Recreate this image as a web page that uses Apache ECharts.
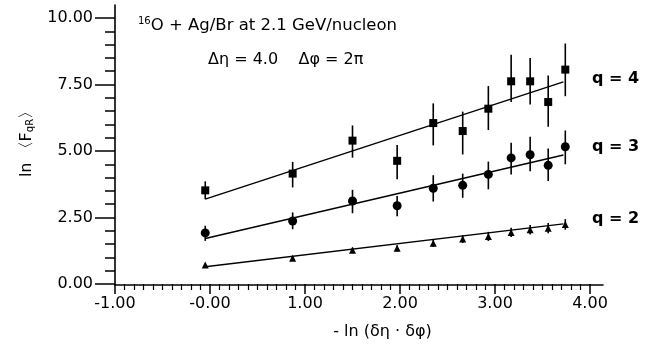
<!DOCTYPE html>
<html>
<head>
<meta charset="utf-8">
<script src="https://cdn.jsdelivr.net/npm/echarts@6/dist/echarts.min.js"></script>
<style>
  html, body { margin: 0; padding: 0; background: #fff; }
  #chart { width: 660px; height: 345px; }
</style>
</head>
<body>
<div id="chart"></div>
<script>
// -ln(δη·δφ) positions of the measured points
const xVals = [-0.05, 0.87, 1.50, 1.97, 2.35, 2.66, 2.93, 3.17, 3.37, 3.56, 3.74]

// q = 4 (squares)
const q4 = [3.52, 4.15, 5.39, 4.63, 6.05, 5.75, 6.59, 7.62, 7.62, 6.84, 8.06]
const q4Lo = [3.19, 3.63, 4.75, 3.94, 5.21, 4.87, 5.79, 6.84, 6.75, 5.91, 7.06]
const q4Hi = [3.86, 4.59, 5.96, 5.23, 6.79, 6.48, 7.44, 8.62, 8.50, 7.84, 9.04]

// q = 3 (circles)
const q3 = [1.92, 2.37, 3.12, 2.94, 3.60, 3.71, 4.12, 4.74, 4.86, 4.46, 5.16]
const q3Lo = [1.62, 2.06, 2.66, 2.55, 3.10, 3.24, 3.56, 4.12, 4.24, 3.87, 4.50]
const q3Hi = [2.19, 2.69, 3.54, 3.31, 4.09, 4.15, 4.60, 5.31, 5.54, 5.09, 5.77]

// q = 2 (triangles)
const q2 = [0.71, 0.97, 1.27, 1.34, 1.53, 1.69, 1.79, 1.94, 2.04, 2.10, 2.24]
const q2Err = [0.06, 0.08, 0.10, 0.12, 0.14, 0.15, 0.17, 0.17, 0.18, 0.19, 0.20]

// fitted straight lines (end points)
const fitX = [-0.05, 3.72]
const fit4 = [3.19, 7.60]
const fit3 = [1.71, 4.85]
const fit2 = [0.65, 2.26]

const font = 'DejaVu Sans'
const ink = '#000'

const pts = (ys) => xVals.map((x, i) => [x, ys[i]])
const bars = (lo, hi) => xVals.map((x, i) => [x, lo[i], hi[i]])
const fit = (ys) => fitX.map((x, i) => [x, ys[i]])

const errorBar = (params, api) => {
  const top = api.coord([api.value(0), api.value(2)])
  const bot = api.coord([api.value(0), api.value(1)])
  return {
    type: 'line',
    shape: { x1: top[0], y1: top[1], x2: bot[0], y2: bot[1] },
    style: { stroke: ink, lineWidth: 1.6 }
  }
}

const chart = echarts.init(document.getElementById('chart'))

const option = {
  backgroundColor: '#fff',
  animation: false,
  textStyle: { fontFamily: font, color: ink },
  grid: [
    // ticks + data
    { left: 115, right: 70, top: 18, bottom: 60 },
    // longer axis lines only
    { left: 115, right: 57, top: 5, bottom: 60 }
  ],
  xAxis: [
    {
      type: 'value', gridIndex: 0, min: -1, max: 4, interval: 1,
      axisLine: { show: false, onZero: false },
      axisTick: { show: true, inside: false, length: 10, lineStyle: { color: ink, width: 1.5 } },
      minorTick: { show: true, splitNumber: 10, length: 6, lineStyle: { color: ink, width: 1.2 } },
      splitLine: { show: false },
      axisLabel: {
        margin: 12, fontSize: 16, color: ink, fontFamily: font,
        // the original plot prints the zero tick as "-0.00"
        formatter: (v) => (v === 0 ? '-0.00' : v.toFixed(2))
      },
      name: '- ln (δη · δφ)',
      nameLocation: 'middle',
      nameGap: 40,
      nameTextStyle: { fontSize: 16, color: ink, fontFamily: font, padding: [0, 0, 0, 60] }
    },
    {
      type: 'value', gridIndex: 1, min: -1, max: 4.137,
      axisLine: { show: true, onZero: false, lineStyle: { color: ink, width: 1.6 } },
      axisTick: { show: false }, axisLabel: { show: false }, splitLine: { show: false }
    }
  ],
  yAxis: [
    {
      type: 'value', gridIndex: 0, min: 0, max: 10, interval: 2.5,
      axisLine: { show: false, onZero: false },
      axisTick: { show: true, inside: false, length: 20, lineStyle: { color: ink, width: 1.5 } },
      minorTick: { show: true, splitNumber: 5, length: 10, lineStyle: { color: ink, width: 1.5 } },
      splitLine: { show: false },
      axisLabel: {
        margin: 22, fontSize: 16, color: ink, fontFamily: font,
        formatter: (v) => v.toFixed(2)
      },
      name: '{n|ln 〈F}{s|qR}{n|〉}',
      nameLocation: 'middle',
      nameGap: 80,
      nameTextStyle: {
        color: ink,
        padding: [0, 0, 0, 22],
        rich: {
          n: { fontSize: 16, fontFamily: font, color: ink },
          s: { fontSize: 10, fontFamily: font, color: ink, verticalAlign: 'bottom', padding: [6, 0, 0, 0] }
        }
      }
    },
    {
      type: 'value', gridIndex: 1, min: 0, max: 10.49,
      axisLine: { show: true, onZero: false, lineStyle: { color: ink, width: 1.6 } },
      axisTick: { show: false }, axisLabel: { show: false }, splitLine: { show: false }
    }
  ],
  graphic: [
    {
      type: 'text', left: 138, top: 16,
      style: {
        text: '{sup|16}{t|O + Ag/Br at 2.1 GeV/nucleon}',
        rich: {
          sup: { fontSize: 10, fontFamily: font, fill: ink, verticalAlign: 'top', lineHeight: 20 },
          t: { fontSize: 16.5, fontFamily: font, fill: ink, lineHeight: 20 }
        }
      }
    },
    {
      type: 'text', left: 208, top: 52,
      style: { text: 'Δη = 4.0    Δφ = 2π', fontSize: 16, fontFamily: font, fill: ink }
    },
    { type: 'text', left: 592, top: 71, style: { text: 'q = 4', fontSize: 16, fontFamily: font, fontWeight: 'bold', fill: ink } },
    { type: 'text', left: 592, top: 139, style: { text: 'q = 3', fontSize: 16, fontFamily: font, fontWeight: 'bold', fill: ink } },
    { type: 'text', left: 592, top: 211, style: { text: 'q = 2', fontSize: 16, fontFamily: font, fontWeight: 'bold', fill: ink } }
  ],
  series: [
    { type: 'line', data: fit(fit4), symbol: 'none', lineStyle: { color: ink, width: 1.4 } },
    { type: 'line', data: fit(fit3), symbol: 'none', lineStyle: { color: ink, width: 1.4 } },
    { type: 'line', data: fit(fit2), symbol: 'none', lineStyle: { color: ink, width: 1.4 } },
    { type: 'custom', renderItem: errorBar, data: bars(q4Lo, q4Hi) },
    { type: 'custom', renderItem: errorBar, data: bars(q3Lo, q3Hi) },
    {
      type: 'custom', renderItem: errorBar,
      data: xVals.map((x, i) => [x, q2[i] - q2Err[i], q2[i] + q2Err[i]])
    },
    { type: 'scatter', data: pts(q4), symbol: 'rect', symbolSize: 8, itemStyle: { color: ink, opacity: 1 } },
    { type: 'scatter', data: pts(q3), symbol: 'circle', symbolSize: 9, itemStyle: { color: ink, opacity: 1 } },
    { type: 'scatter', data: pts(q2), symbol: 'triangle', symbolSize: 7, itemStyle: { color: ink, opacity: 1 } }
  ]
}

chart.setOption(option)
</script>
</body>
</html>
